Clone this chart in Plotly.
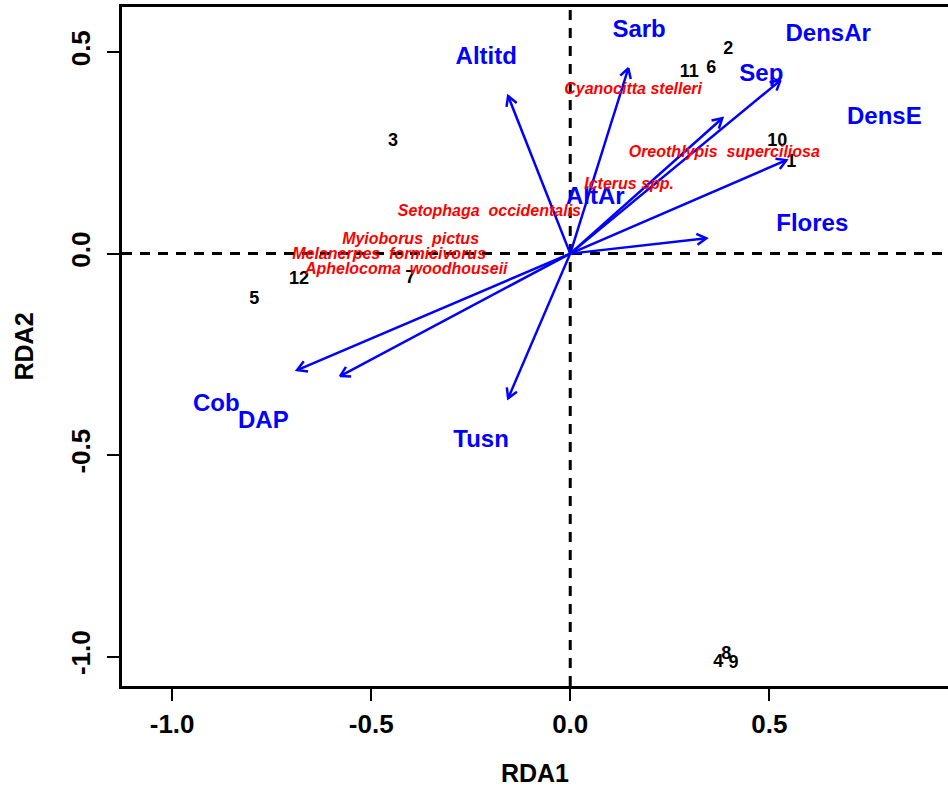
import numpy as np
import plotly.graph_objects as go

# ---------------- data ----------------
# environmental biplot arrows (tips)
env_names = ["Altitd", "Sarb", "DensAr", "Sep", "DensE", "Flores", "Cob", "DAP", "Tusn"]
env_x = [-0.156, 0.146, 0.528, 0.382, 0.543, 0.342, -0.686, -0.578, -0.156]
env_y = [0.391, 0.460, 0.430, 0.336, 0.232, 0.038, -0.289, -0.304, -0.359]

# environmental label positions
lab_names = ["Altitd", "Sarb", "DensAr", "Sep", "DensE", "Flores", "Cob", "DAP", "Tusn", "AltAr"]
lab_x = [-0.211, 0.173, 0.648, 0.480, 0.789, 0.608, -0.889, -0.771, -0.224, 0.063]
lab_y = [0.485, 0.552, 0.542, 0.443, 0.336, 0.070, -0.376, -0.418, -0.466, 0.138]

# species scores
sp_names = ["Cyanocitta stelleri", "Oreothlypis  superciliosa", "Icterus spp.",
            "Setophaga  occidentalis", "Myioborus  pictus", "Melanerpes  formicivorus",
            "Aphelocoma  woodhouseii"]
sp_x = [0.158, 0.387, 0.148, -0.203, -0.401, -0.455, -0.412]
sp_y = [0.406, 0.249, 0.170, 0.103, 0.035, -0.004, -0.041]

# site scores
site_labels = ["1", "2", "3", "4", "5", "6", "7", "8", "9", "10", "11", "12"]
site_x = [0.555, 0.397, -0.445, 0.372, -0.794, 0.354, -0.402, 0.392, 0.410, 0.520, 0.299, -0.681]
site_y = [0.227, 0.507, 0.279, -1.014, -0.113, 0.460, -0.061, -0.994, -1.016, 0.277, 0.450, -0.063]

x_ticks = [-1.0, -0.5, 0.0, 0.5]
y_ticks = [-1.0, -0.5, 0.0, 0.5]
x_range = [-1.126, 0.949]
y_range = [-1.073, 0.612]

# ---------------- layout geometry ----------------
W, H = 948, 787
ML, MR, MT, MB = 122, 0, 7, 101
pw, ph = W - ML - MR, H - MT - MB
sx = pw / (x_range[1] - x_range[0])
sy = ph / (y_range[1] - y_range[0])

FONT = "Liberation Sans, Arial, sans-serif"
BLUE = "#0000FF"

# arrow shafts + V heads (computed in pixel space from data)
hl = 11.0
ang = np.deg2rad(30)
ax_, ay_ = [], []
for x, y in zip(env_x, env_y):
    ax_ += [0, x, None]
    dx, dy = x * sx, y * sy
    n = np.hypot(dx, dy)
    ux, uy = dx / n, dy / n
    pts = []
    for s in (+1, -1):
        c, si = np.cos(s * ang), np.sin(s * ang)
        rx, ry = ux * c - uy * si, ux * si + uy * c
        pts.append((x - hl * rx / sx, y - hl * ry / sy))
    ax_ += [pts[0][0], x, pts[1][0], None]
    ay_ += [0, y, None, pts[0][1], y, pts[1][1], None]

fig = go.Figure()

# blue env labels (under arrows)
fig.add_trace(go.Scatter(
    x=lab_x, y=lab_y, text=lab_names, mode="text",
    textfont=dict(family=FONT, size=24, color=BLUE, weight="bold"),
    hoverinfo="skip", showlegend=False))

fig.add_trace(go.Scatter(
    x=ax_, y=ay_, mode="lines",
    line=dict(color=BLUE, width=2.5),
    hoverinfo="skip", showlegend=False))

fig.add_trace(go.Scatter(
    x=site_x, y=site_y, text=site_labels, mode="text",
    textfont=dict(family=FONT, size=18, color="black", weight="bold"),
    hoverinfo="skip", showlegend=False))

fig.add_trace(go.Scatter(
    x=sp_x, y=sp_y, text=sp_names, mode="text",
    textfont=dict(family=FONT, size=16, color="#FF0000", weight="bold", style="italic"),
    hoverinfo="skip", showlegend=False))

# dashed zero lines
fig.add_shape(type="line", xref="paper", yref="y", x0=0, x1=1, y0=0, y1=0,
              line=dict(color="black", width=3, dash="10px,8px"), layer="below")
fig.add_shape(type="line", xref="x", yref="paper", x0=0, x1=0, y0=0, y1=1,
              line=dict(color="black", width=3, dash="10px,8px"), layer="below")

axis_common = dict(
    showgrid=False, zeroline=False, showline=True, linecolor="black", linewidth=3,
    ticks="outside", ticklen=12, tickwidth=2, tickcolor="black",
    tickfont=dict(family=FONT, size=26, color="black", weight="bold"),
)

fig.update_xaxes(range=x_range, tickvals=x_ticks, ticktext=[f"{v:.1f}" for v in x_ticks],
                 mirror=True, title=dict(text="RDA1", font=dict(family=FONT, size=25, color="black", weight="bold"), standoff=28),
                 ticklabelstandoff=1, **axis_common)
fig.update_yaxes(range=y_range, tickvals=y_ticks, ticktext=[f"{v:.1f}" for v in y_ticks],
                 mirror=False, tickangle=-90,
                 title=dict(text="RDA2", font=dict(family=FONT, size=25, color="black", weight="bold"), standoff=25),
                 ticklabelstandoff=7, **axis_common)

fig.update_layout(
    width=W, height=H,
    margin=dict(l=ML, r=MR, t=MT, b=MB, pad=0),
    plot_bgcolor="white", paper_bgcolor="white",
    showlegend=False,
)

fig.write_html("out.html")
